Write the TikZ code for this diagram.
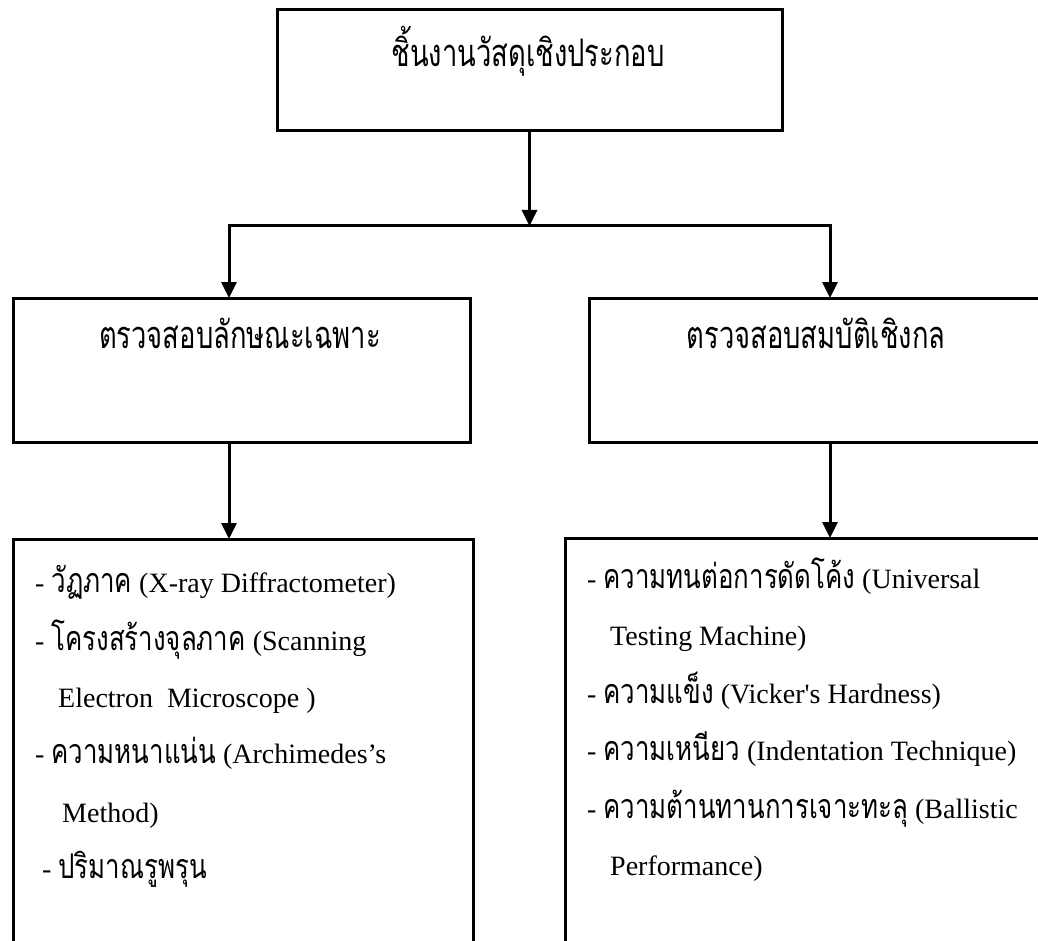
\documentclass[tikz,border=0pt]{standalone}
\usepackage{fontspec}
\setmainfont{Liberation Serif}[Ligatures=TeXOff]
\newfontfamily\thaifont[Script=Thai,FakeStretch=0.76]{Loma}
\newfontfamily\thaihead[Script=Thai,FakeStretch=0.72]{Loma}
\usetikzlibrary{arrows.meta}
\tikzset{
  box/.style={draw, line width=3pt, rectangle, inner sep=0pt, outer sep=0pt},
  conn/.style={line width=3pt},
  arr/.style={conn, -{Triangle[length=16pt,width=15pt]}},
  head/.style={anchor=base, inner sep=0pt, font=\fontsize{38}{44}\selectfont\thaihead},
  item/.style={anchor=base west, inner sep=0pt, font=\fontsize{28}{32}\selectfont},
}
\newcommand{\tht}[1]{{\fontsize{34}{38}\selectfont\thaifont #1}}
\begin{document}
\begin{tikzpicture}[x=1pt,y=-1pt]
\useasboundingbox (0,0) rectangle (1038,941);
\clip (0,0) rectangle (1038,941);
% boxes
\node[box, minimum width=505pt, minimum height=121pt] (top) at (529.5,70.5) {};
\node[box, minimum width=457pt, minimum height=144pt] (ml) at (241.5,370) {};
\node[box, minimum width=481pt, minimum height=144pt] (mr) at (829.5,370) {};
\node[box, minimum width=460pt, minimum height=451pt] (bl) at (243,764.5) {};
\node[box, minimum width=505pt, minimum height=452pt] (br) at (817.5,764) {};
% headings
\node[head] (ttop) at (528,67) {ชิ้นงานวัสดุเชิงประกอบ};
\node[head] (tml) at (240,348) {ตรวจสอบลักษณะเฉพาะ};
\node[head] (tmr) at (816,348) {ตรวจสอบสมบัติเชิงกล};
% connectors
\coordinate (j) at (529.5,226);
\coordinate (jl) at (229,226);
\coordinate (jr) at (830,226);
\draw[arr] (top.south) -- (j);
\draw[arr] (j) -| (jl |- ml.north);
\draw[arr] (j) -| (jr |- mr.north);
\draw[arr] (jl |- ml.south) -- (jl |- bl.north);
\draw[arr] (jr |- mr.south) -- (jr |- br.north);
% left list
\node[item] (l1) at (35,592) {- \tht{วัฏภาค} (X-ray Diffractometer)};
\node[item] (l2) at (35,650) {- \tht{โครงสร้างจุลภาค} (Scanning};
\node[item] (l3) at (58,707) {Electron\ \ Microscope )};
\node[item] (l4) at (35,763) {- \tht{ความหนาแน่น} (Archimedes’s};
\node[item] (l5) at (62,822) {Method)};
\node[item] (l6) at (42,878) {- \tht{ปริมาณรูพรุน}};
% right list
\node[item] (r1) at (587,588) {- \tht{ความทนต่อการดัดโค้ง} (Universal};
\node[item] (r2) at (610,645) {Testing Machine)};
\node[item] (r3) at (587,703) {- \tht{ความแข็ง} (Vicker's Hardness)};
\node[item] (r4) at (587,760) {- \tht{ความเหนียว} (Indentation Technique)};
\node[item] (r5) at (587,818) {- \tht{ความต้านทานการเจาะทะลุ} (Ballistic};
\node[item] (r6) at (610,875) {Performance)};
\end{tikzpicture}
\end{document}
